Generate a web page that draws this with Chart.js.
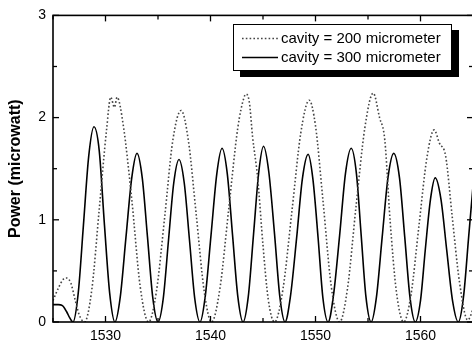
<!DOCTYPE html>
<html>
<head>
<meta charset="utf-8">
<script src="https://cdn.jsdelivr.net/npm/chart.js@4.4.1/dist/chart.umd.min.js"></script>
<style>
  html, body { margin: 0; padding: 0; background: #fff; overflow: hidden; }
  #wrap { width: 474px; height: 349px; }
</style>
</head>
<body>
<div id="wrap"><canvas id="c" width="474" height="349"></canvas></div>
<script>
// ---- data ----
const seriesLabels = ['cavity = 200 micrometer', 'cavity = 300 micrometer'];

const wavelength200 = [1525.0,1525.5,1526.0,1526.3,1526.7,1527.1,1527.5,1528.0,1528.7,1529.4,1530.1,1530.5,1530.85,1531.1,1531.7,1532.5,1533.3,1534.1,1534.85,1535.65,1536.4,1537.2,1537.9,1538.65,1539.4,1540.1,1540.9,1541.75,1542.6,1543.2,1543.4,1543.7,1544.0,1544.5,1545.0,1545.5,1546.1,1546.9,1547.75,1548.6,1549.4,1550.0,1550.7,1551.5,1552.3,1553.05,1553.85,1554.7,1555.5,1556.1,1556.6,1557.1,1557.7,1558.4,1559.1,1559.85,1560.6,1561.3,1561.8,1562.4,1563.0,1563.7,1564.5,1565.1];
const power200 = [0.21,0.33,0.42,0.43,0.38,0.22,0.07,0.00,0.32,1.10,1.88,2.20,2.10,2.20,1.92,1.20,0.35,0.00,0.30,1.04,1.77,2.07,1.77,1.04,0.30,0.00,0.33,1.12,1.90,2.20,2.23,2.15,1.82,1.40,0.75,0.22,0.00,0.32,1.08,1.85,2.17,1.92,1.20,0.35,0.00,0.33,1.12,1.90,2.24,2.00,1.78,1.00,0.30,0.00,0.27,0.94,1.60,1.88,1.75,1.62,1.05,0.40,0.02,0.15];

const wavelength300 = [1525.0,1525.5,1525.9,1526.3,1526.6,1526.9,1527.4,1527.9,1528.4,1528.9,1529.4,1529.9,1530.4,1530.9,1531.4,1531.95,1532.5,1533.0,1533.5,1534.0,1534.5,1535.0,1535.5,1536.0,1536.5,1537.0,1537.5,1538.0,1538.5,1539.0,1539.5,1540.05,1540.6,1541.1,1541.6,1542.1,1542.6,1543.1,1543.6,1544.1,1544.6,1545.05,1545.55,1546.1,1546.6,1547.1,1547.6,1548.2,1548.75,1549.3,1549.75,1550.25,1550.7,1551.2,1551.7,1552.3,1552.85,1553.4,1553.9,1554.35,1554.8,1555.3,1555.8,1556.35,1556.9,1557.45,1558.0,1558.5,1559.0,1559.5,1560.0,1560.45,1560.95,1561.4,1561.95,1562.5,1563.05,1563.6,1564.1,1564.6,1565.1];
const power300 = [0.17,0.17,0.16,0.10,0.04,0.00,0.28,0.95,1.62,1.91,1.68,0.95,0.28,0.00,0.24,0.83,1.41,1.65,1.41,0.83,0.24,0.00,0.23,0.80,1.36,1.59,1.36,0.80,0.23,0.00,0.25,0.85,1.45,1.70,1.45,0.85,0.25,0.00,0.25,0.86,1.47,1.72,1.47,0.86,0.25,0.00,0.24,0.82,1.40,1.64,1.40,0.82,0.24,0.00,0.25,0.85,1.45,1.70,1.45,0.85,0.25,0.00,0.24,0.83,1.41,1.65,1.41,0.83,0.24,0.00,0.21,0.70,1.20,1.41,1.20,0.70,0.21,0.00,0.25,0.85,1.45];

const xMajorTicks = [1530, 1540, 1550, 1560];
const xMinorTicks = [1525, 1535, 1545, 1555, 1565];
const yMajorTicks = [0, 1, 2, 3];
const yMinorTicks = [0.5, 1.5, 2.5];
const yTitle = 'Power (microwatt)';

// ---- chart ----
const FONT = "'Liberation Sans', Arial, sans-serif";
const toPts = (xs, ys) => xs.map((v, i) => ({ x: v, y: ys[i] }));

const framePlugin = {
  id: 'frame',
  afterDatasetsDraw(chart) {
    const { ctx, chartArea: a, scales: { x, y } } = chart;
    ctx.save();
    ctx.strokeStyle = '#000';
    ctx.lineWidth = 1.6;
    ctx.strokeRect(a.left, a.top, a.right - a.left, a.bottom - a.top);
    ctx.lineWidth = 1.3;
    const seg = (x1, y1, x2, y2) => { ctx.beginPath(); ctx.moveTo(x1, y1); ctx.lineTo(x2, y2); ctx.stroke(); };
    const xt = (vals, len) => vals.forEach(v => {
      const p = x.getPixelForValue(v);
      seg(p, a.bottom, p, a.bottom - len);
      seg(p, a.top, p, a.top + len);
    });
    const yt = (vals, len) => vals.forEach(v => {
      const p = y.getPixelForValue(v);
      seg(a.left, p, a.left + len, p);
      seg(a.right, p, a.right - len, p);
    });
    xt(xMajorTicks, 6); xt(xMinorTicks, 4);
    yt(yMajorTicks, 6); yt(yMinorTicks, 4);
    ctx.restore();
  }
};

const legendPlugin = {
  id: 'boxLegend',
  afterDraw(chart) {
    const { ctx } = chart;
    const bx = 233, by = 24, bw = 219, bh = 47;
    ctx.save();
    ctx.fillStyle = '#000';
    ctx.fillRect(bx + 7, by + 6, bw, bh);
    ctx.fillStyle = '#fff';
    ctx.fillRect(bx, by, bw, bh);
    ctx.strokeStyle = '#000';
    ctx.lineWidth = 1;
    ctx.strokeRect(bx + 0.5, by + 0.5, bw - 1, bh - 1);
    ctx.font = '15px ' + FONT;
    ctx.textBaseline = 'middle';
    ctx.textAlign = 'left';
    chart.data.datasets.forEach((ds, i) => {
      const yy = by + 14.5 + i * 19;
      ctx.strokeStyle = ds.borderColor;
      ctx.lineWidth = ds.borderWidth;
      ctx.setLineDash(ds.borderDash || []);
      ctx.beginPath(); ctx.moveTo(242, yy); ctx.lineTo(278, yy); ctx.stroke();
      ctx.setLineDash([]);
      ctx.fillStyle = '#000';
      ctx.fillText(ds.label, 281, yy);
    });
    ctx.restore();
  }
};

new Chart(document.getElementById('c'), {
  type: 'line',
  data: {
    datasets: [
      {
        label: seriesLabels[0],
        data: toPts(wavelength200, power200),
        borderColor: '#444',
        borderWidth: 1.6,
        borderDash: [1.6, 2.2],
        pointRadius: 0,
        cubicInterpolationMode: 'monotone',
        fill: false
      },
      {
        label: seriesLabels[1],
        data: toPts(wavelength300, power300),
        borderColor: '#000',
        borderWidth: 1.6,
        pointRadius: 0,
        cubicInterpolationMode: 'monotone',
        fill: false
      }
    ]
  },
  options: {
    responsive: false,
    devicePixelRatio: 1,
    animation: false,
    layout: { padding: { left: 0, top: 10, right: 1, bottom: 0 } },
    plugins: { legend: { display: false }, tooltip: { enabled: false } },
    scales: {
      x: {
        type: 'linear',
        min: 1525, max: 1565,
        grid: { display: false, drawTicks: false },
        border: { display: false },
        afterBuildTicks: s => { s.ticks = xMajorTicks.map(v => ({ value: v })); },
        afterFit: s => { s.height = 27; },
        ticks: { color: '#000', padding: 6, font: { family: FONT, size: 14 }, callback: v => String(v) }
      },
      y: {
        min: 0, max: 3,
        grid: { display: false, drawTicks: false },
        border: { display: false },
        afterBuildTicks: s => { s.ticks = yMajorTicks.map(v => ({ value: v })); },
        afterFit: s => { s.width = 53; },
        ticks: { color: '#000', padding: 7, font: { family: FONT, size: 14 }, callback: v => String(v) },
        title: { display: true, text: yTitle, color: '#000', padding: { top: 6, bottom: 0 }, font: { family: FONT, size: 16, weight: 'bold' } }
      }
    }
  },
  plugins: [framePlugin, legendPlugin]
});
</script>
</body>
</html>
